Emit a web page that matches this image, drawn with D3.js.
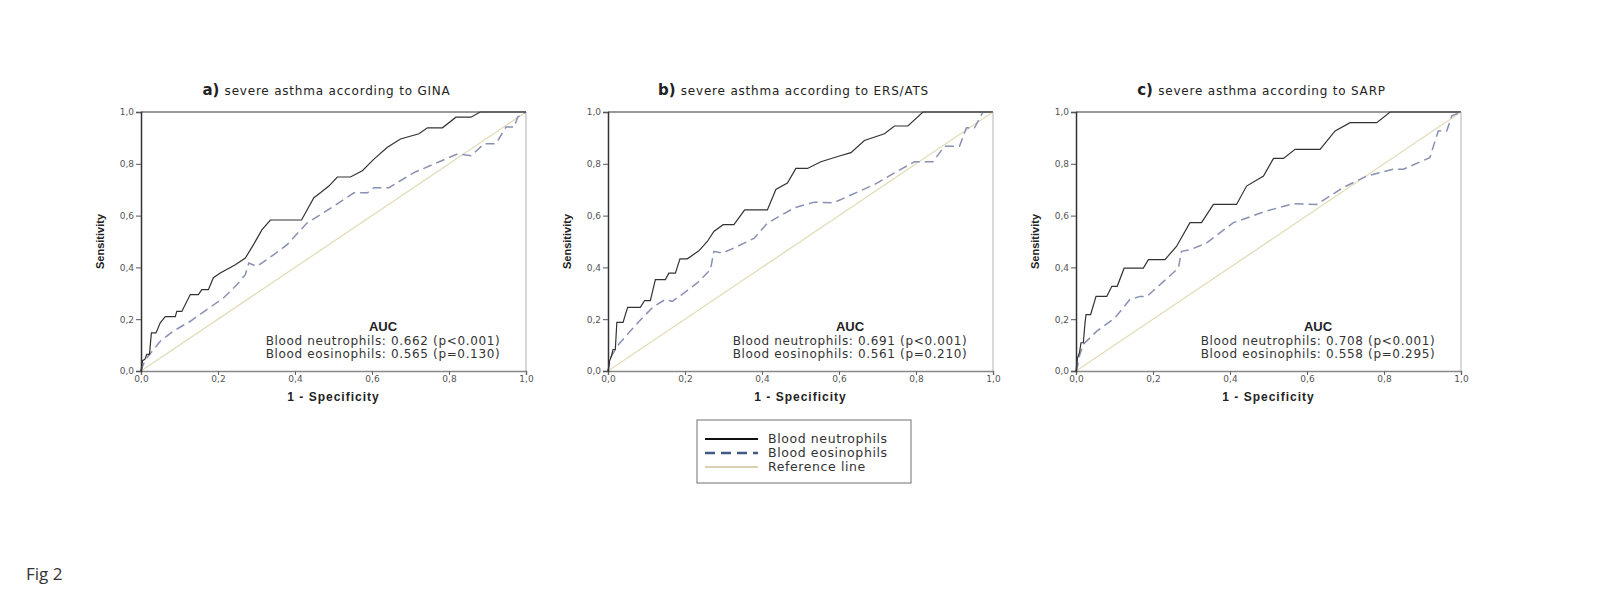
<!DOCTYPE html>
<html>
<head>
<meta charset="utf-8">
<script src="https://cdn.jsdelivr.net/npm/d3@7"></script>
<style>
  body { margin: 0; background: #fff; }
  svg { display: block; }
  .tick text { font-family: "DejaVu Sans", sans-serif; font-size: 9px; fill: #555; }
</style>
</head>
<body>
<div id="chart"></div>
<script>
// ROC curves, values: [1 - specificity, sensitivity]
const ginaNeut = [[0,0],[0.004,0.04],[0.01,0.045],[0.015,0.064],[0.022,0.064],[0.027,0.147],[0.039,0.147],[0.05,0.186],[0.063,0.21],[0.089,0.21],[0.093,0.23],[0.106,0.23],[0.128,0.295],[0.149,0.295],[0.158,0.314],[0.175,0.314],[0.188,0.36],[0.206,0.378],[0.245,0.41],[0.271,0.436],[0.293,0.49],[0.314,0.545],[0.336,0.583],[0.417,0.583],[0.449,0.669],[0.466,0.688],[0.488,0.714],[0.51,0.749],[0.544,0.749],[0.575,0.773],[0.605,0.818],[0.64,0.864],[0.674,0.896],[0.722,0.916],[0.744,0.939],[0.783,0.939],[0.818,0.98],[0.857,0.98],[0.881,1],[1,1]];
const ginaEos = [[0,0],[0.006,0.026],[0.019,0.058],[0.05,0.115],[0.084,0.154],[0.128,0.192],[0.171,0.237],[0.214,0.282],[0.249,0.333],[0.271,0.372],[0.28,0.417],[0.301,0.404],[0.345,0.449],[0.379,0.487],[0.431,0.571],[0.5,0.636],[0.553,0.688],[0.588,0.688],[0.605,0.708],[0.644,0.708],[0.709,0.766],[0.77,0.805],[0.822,0.838],[0.857,0.831],[0.891,0.877],[0.922,0.877],[0.948,0.942],[0.97,0.942],[0.978,0.98],[1,1]];
const ersNeut = [[0,0],[0.004,0.038],[0.009,0.058],[0.013,0.083],[0.019,0.083],[0.023,0.188],[0.039,0.188],[0.051,0.246],[0.084,0.246],[0.095,0.272],[0.11,0.272],[0.123,0.353],[0.149,0.353],[0.158,0.378],[0.175,0.378],[0.187,0.433],[0.206,0.433],[0.236,0.464],[0.258,0.5],[0.275,0.539],[0.299,0.565],[0.327,0.565],[0.355,0.622],[0.414,0.622],[0.436,0.701],[0.466,0.726],[0.488,0.782],[0.518,0.782],[0.553,0.808],[0.601,0.83],[0.631,0.843],[0.666,0.89],[0.718,0.916],[0.744,0.946],[0.779,0.946],[0.818,1],[1,1]];
const ersEos = [[0,0],[0.002,0.013],[0.006,0.051],[0.028,0.103],[0.058,0.154],[0.089,0.205],[0.119,0.25],[0.149,0.276],[0.167,0.269],[0.197,0.301],[0.232,0.34],[0.266,0.391],[0.275,0.462],[0.297,0.455],[0.336,0.481],[0.38,0.513],[0.414,0.571],[0.484,0.63],[0.536,0.652],[0.585,0.649],[0.692,0.72],[0.744,0.765],[0.796,0.808],[0.844,0.808],[0.874,0.868],[0.913,0.868],[0.931,0.939],[0.952,0.939],[0.974,1],[1,1]];
const sarpNeut = [[0,0],[0.004,0.051],[0.009,0.071],[0.013,0.109],[0.019,0.109],[0.023,0.179],[0.026,0.218],[0.038,0.218],[0.052,0.288],[0.08,0.288],[0.093,0.327],[0.107,0.327],[0.125,0.397],[0.175,0.397],[0.188,0.43],[0.231,0.43],[0.261,0.481],[0.296,0.573],[0.326,0.573],[0.357,0.643],[0.417,0.643],[0.443,0.714],[0.487,0.753],[0.513,0.821],[0.539,0.821],[0.569,0.856],[0.634,0.856],[0.673,0.927],[0.712,0.959],[0.781,0.959],[0.816,1],[1,1]];
const sarpEos = [[0,0],[0.002,0.006],[0.01,0.064],[0.019,0.103],[0.054,0.154],[0.101,0.205],[0.14,0.276],[0.166,0.288],[0.184,0.288],[0.218,0.333],[0.266,0.397],[0.274,0.462],[0.296,0.468],[0.339,0.494],[0.409,0.573],[0.495,0.618],[0.565,0.646],[0.625,0.643],[0.694,0.708],[0.755,0.753],[0.824,0.779],[0.85,0.779],[0.919,0.824],[0.941,0.927],[0.963,0.927],[0.976,0.985],[1,1]];

const panelLetters = ["a)", "b)", "c)"];
const panelTitles = ["severe asthma according to GINA", "severe asthma according to ERS/ATS", "severe asthma according to SARP"];
const neutAUC = ["Blood neutrophils: 0.662 (p<0.001)", "Blood neutrophils: 0.691 (p<0.001)", "Blood neutrophils: 0.708 (p<0.001)"];
const eosAUC = ["Blood eosinophils: 0.565 (p=0.130)", "Blood eosinophils: 0.561 (p=0.210)", "Blood eosinophils: 0.558 (p=0.295)"];
const tickValues = [0, 0.2, 0.4, 0.6, 0.8, 1.0];
const legendLabels = ["Blood neutrophils", "Blood eosinophils", "Reference line"];

const neutCurves = [ginaNeut, ersNeut, sarpNeut];
const eosCurves = [ginaEos, ersEos, sarpEos];

const W = 1602, H = 604;
const panelLeft = [141, 608, 1076];
const pw = 385, plotTop = 112, plotBottom = 371;

const colNeut = "#333", colEos = "#8a90b2", colRef = "#e3dcb8";

const svg = d3.select("#chart").append("svg").attr("width", W).attr("height", H);

const tickFmt = d => d3.format(".1f")(d).replace(".", ",");

panelLetters.forEach((letter, i) => {
  const x0 = panelLeft[i];
  const x = d3.scaleLinear().domain([0, 1]).range([x0, x0 + pw]);
  const y = d3.scaleLinear().domain([0, 1]).range([plotBottom, plotTop]);
  const g = svg.append("g");

  // title
  const t = g.append("text").attr("x", x0 + pw / 2 - 7).attr("y", 95)
    .attr("text-anchor", "middle").attr("font-family", "DejaVu Sans, sans-serif").attr("fill", "#222");
  t.append("tspan").attr("font-weight", "bold").attr("font-size", "15px").text(letter + " ");
  t.append("tspan").attr("font-size", "12px").attr("letter-spacing", "0.8px").text(panelTitles[i]);

  // frame: top and right
  g.append("line").attr("x1", x0).attr("x2", x0 + pw).attr("y1", plotTop).attr("y2", plotTop)
    .attr("stroke", "#999").attr("stroke-width", 2.2);
  g.append("line").attr("x1", x0 + pw).attr("x2", x0 + pw).attr("y1", plotTop).attr("y2", plotBottom)
    .attr("stroke", "#ccc").attr("stroke-width", 1.5);

  // reference line
  g.append("line").attr("x1", x(0)).attr("y1", y(0)).attr("x2", x(1)).attr("y2", y(1))
    .attr("stroke", colRef).attr("stroke-width", 1.3);

  const line = d3.line().x(d => x(d[0])).y(d => y(d[1]));
  g.append("path").attr("d", line(eosCurves[i])).attr("fill", "none")
    .attr("stroke", colEos).attr("stroke-width", 1.5).attr("stroke-dasharray", "9,5");
  g.append("path").attr("d", line(neutCurves[i])).attr("fill", "none")
    .attr("stroke", colNeut).attr("stroke-width", 1.2);

  // axes
  const gx = g.append("g").attr("transform", "translate(0," + plotBottom + ")")
    .call(d3.axisBottom(x).tickValues(tickValues).tickFormat(tickFmt).tickSize(4).tickPadding(1));
  gx.select(".domain").attr("stroke", "#888").attr("stroke-width", 1.5);
  gx.selectAll(".tick line").attr("stroke", "#666");

  const gy = g.append("g").attr("transform", "translate(" + x0 + ",0)")
    .call(d3.axisLeft(y).tickValues(tickValues).tickFormat(tickFmt).tickSize(5).tickPadding(2));
  gy.select(".domain").attr("stroke", "#333").attr("stroke-width", 1.5);
  gy.selectAll(".tick line").attr("stroke", "#555");

  // axis titles
  g.append("text").attr("x", x0 + pw / 2).attr("y", 401).attr("text-anchor", "middle")
    .attr("font-family", "Liberation Sans, Arial, sans-serif").attr("font-weight", "bold")
    .attr("font-size", "12px").attr("letter-spacing", "1px").attr("fill", "#222").text("1 - Specificity");
  g.append("text").attr("transform", "translate(" + (x0 - 37) + "," + ((plotTop + plotBottom) / 2) + ") rotate(-90)")
    .attr("text-anchor", "middle")
    .attr("font-family", "Liberation Sans Narrow, Liberation Sans, sans-serif").attr("font-weight", "bold")
    .attr("font-size", "11px").attr("fill", "#222").text("Sensitivity");

  // AUC block
  const cx = x0 + pw - 143;
  g.append("text").attr("x", cx).attr("y", 331).attr("text-anchor", "middle")
    .attr("font-family", "Liberation Sans, Arial, sans-serif").attr("font-weight", "bold")
    .attr("font-size", "13px").attr("fill", "#222").text("AUC");
  [neutAUC[i], eosAUC[i]].forEach((s, k) => {
    g.append("text").attr("x", cx).attr("y", 345 + k * 13).attr("text-anchor", "middle")
      .attr("font-family", "DejaVu Sans, sans-serif").attr("font-size", "12px")
      .attr("letter-spacing", "0.65px").attr("fill", "#333").text(s);
  });
});

// legend
const lg = svg.append("g").attr("transform", "translate(697,420)");
lg.append("rect").attr("width", 214).attr("height", 63).attr("fill", "#fff")
  .attr("stroke", "#888").attr("stroke-width", 1.2);
const legendStyles = [
  { stroke: "#111", width: 2, dash: null },
  { stroke: "#3f5a86", width: 2.5, dash: "10,6" },
  { stroke: "#b9a266", width: 1.2, dash: null }
];
legendLabels.forEach((lab, k) => {
  const yy = 19 + k * 14;
  lg.append("line").attr("x1", 8).attr("x2", 61).attr("y1", yy).attr("y2", yy)
    .attr("stroke", legendStyles[k].stroke).attr("stroke-width", legendStyles[k].width)
    .attr("stroke-dasharray", legendStyles[k].dash);
  lg.append("text").attr("x", 71).attr("y", yy + 4)
    .attr("font-family", "DejaVu Sans, sans-serif").attr("font-size", "12.5px")
    .attr("letter-spacing", "0.6px").attr("fill", "#333").text(lab);
});

svg.append("text").attr("x", 26).attr("y", 580)
  .attr("font-family", "Open Sans, sans-serif").attr("font-size", "17px").attr("fill", "#333").text("Fig 2");
</script>
</body>
</html>
